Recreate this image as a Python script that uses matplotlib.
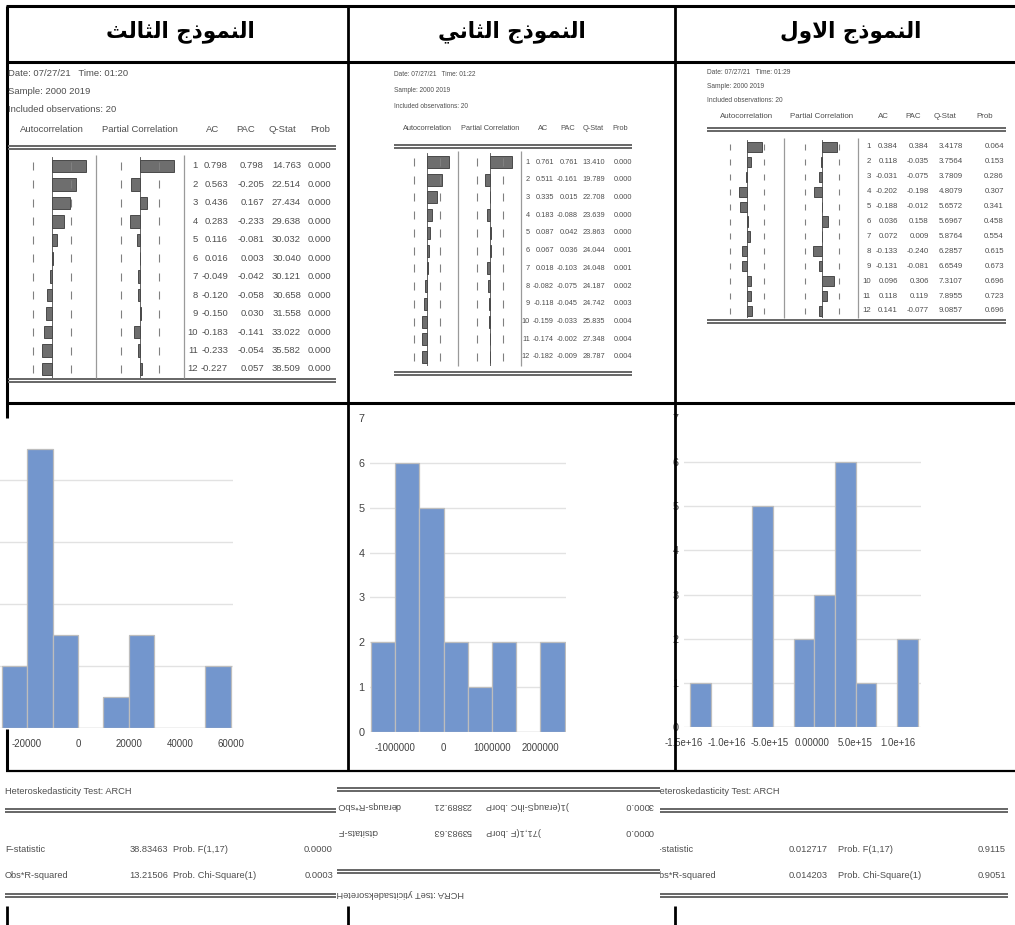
import matplotlib.pyplot as plt
from matplotlib.transforms import blended_transform_factory
import numpy as np

W, H = 1015, 925
DPI = 100

SANS = ['Liberation Sans', 'DejaVu Sans']
GREY = '#4f4f4f'

# column headers, left to right
HEADERS = ['النموذج الثالث', 'النموذج الثاني', 'النموذج الاول']

# correlograms (lags 1..12)
LAGS = list(range(1, 13))
TIME_M3 = '01:20'
AC_M3 = [0.798, 0.563, 0.436, 0.283, 0.116, 0.016, -0.049, -0.120, -0.150, -0.183, -0.233, -0.227]
PAC_M3 = [0.798, -0.205, 0.167, -0.233, -0.081, 0.003, -0.042, -0.058, 0.030, -0.141, -0.054, 0.057]
Q_M3 = [14.763, 22.514, 27.434, 29.638, 30.032, 30.040, 30.121, 30.658, 31.558, 33.022, 35.582, 38.509]
PROB_M3 = [0.000, 0.000, 0.000, 0.000, 0.000, 0.000, 0.000, 0.000, 0.000, 0.000, 0.000, 0.000]

TIME_M2 = '01:22'
AC_M2 = [0.761, 0.511, 0.335, 0.183, 0.087, 0.067, 0.018, -0.082, -0.118, -0.159, -0.174, -0.182]
PAC_M2 = [0.761, -0.161, 0.015, -0.088, 0.042, 0.036, -0.103, -0.075, -0.045, -0.033, -0.002, -0.009]
Q_M2 = [13.410, 19.789, 22.708, 23.639, 23.863, 24.044, 24.048, 24.187, 24.742, 25.835, 27.348, 28.787]
PROB_M2 = [0.000, 0.000, 0.000, 0.000, 0.000, 0.001, 0.001, 0.002, 0.003, 0.004, 0.004, 0.004]

TIME_M1 = '01:29'
AC_M1 = [0.384, 0.118, -0.031, -0.202, -0.188, 0.036, 0.072, -0.133, -0.131, 0.096, 0.118, 0.141]
PAC_M1 = [0.384, -0.035, -0.075, -0.198, -0.012, 0.158, 0.009, -0.240, -0.081, 0.306, 0.119, -0.077]
Q_M1 = [3.4178, 3.7564, 3.7809, 4.8079, 5.6572, 5.6967, 5.8764, 6.2857, 6.6549, 7.3107, 7.8955, 9.0857]
PROB_M1 = [0.064, 0.153, 0.286, 0.307, 0.341, 0.458, 0.554, 0.615, 0.673, 0.696, 0.723, 0.696]

N_OBS = 20

# residual histograms
HIST_M3_EDGES = [-30000, -20000, -10000, 0, 10000, 20000, 30000, 40000, 50000, 60000]
HIST_M3_COUNTS = [2, 9, 3, 0, 1, 3, 0, 0, 2]
HIST_M3_TICKS = [-20000, 0, 20000, 40000, 60000]
HIST_M3_LABELS = ['-20000', '0', '20000', '40000', '60000']

HIST_M2_EDGES = [-1500000, -1000000, -500000, 0, 500000, 1000000, 1500000, 2000000, 2500000]
HIST_M2_COUNTS = [2, 6, 5, 2, 1, 2, 0, 2]
HIST_M2_TICKS = [-1000000, 0, 1000000, 2000000]
HIST_M2_LABELS = ['-1000000', '0', '1000000', '2000000']

HIST_M1_EDGES = [-1.430e16, -1.188e16, -9.46e15, -7.04e15, -4.62e15, -2.20e15,
                 0.22e15, 2.64e15, 5.06e15, 7.48e15, 9.90e15, 1.232e16]
HIST_M1_COUNTS = [1, 0, 0, 5, 0, 2, 3, 6, 1, 0, 2]
HIST_M1_TICKS = [-1.5e16, -1.0e16, -5.0e15, 0, 5.0e15, 1.0e16]
HIST_M1_LABELS = ['-1.5e+16', '-1.0e+16', '-5.0e+15', '0.00000', '5.0e+15', '1.0e+16']

# ARCH tests: F, p of F, Obs*R2, p of chi2
ARCH_M3 = ['38.83463', '0.0000', '13.21506', '0.0003']
ARCH_M2 = ['36.38935', '0.0000', '12.98832', '0.0003']
ARCH_M1 = ['0.012717', '0.9115', '0.014203', '0.9051']

# Arabic contextual forms: isolated, final, initial, medial
AR_FORMS = {
    'ا': ('\uFE8D', '\uFE8E', None, None),
    'ل': ('\uFEDD', '\uFEDE', '\uFEDF', '\uFEE0'),
    'ن': ('\uFEE5', '\uFEE6', '\uFEE7', '\uFEE8'),
    'م': ('\uFEE1', '\uFEE2', '\uFEE3', '\uFEE4'),
    'و': ('\uFEED', '\uFEEE', None, None),
    'ذ': ('\uFEAB', '\uFEAC', None, None),
    'ج': ('\uFE9D', '\uFE9E', '\uFE9F', '\uFEA0'),
    'ث': ('\uFE99', '\uFE9A', '\uFE9B', '\uFE9C'),
    'ي': ('\uFEF1', '\uFEF2', '\uFEF3', '\uFEF4'),
}
LAM_ALEF = ('\uFEFB', '\uFEFC')


def shape_arabic(word: str) -> str:
    # matplotlib has no shaping / bidi, so pick the joined forms by hand
    units = []
    i = 0
    while i < len(word):
        if word[i] == 'ل' and i + 1 < len(word) and word[i + 1] == 'ا':
            units.append('LA')
            i += 2
        else:
            units.append(word[i])
            i += 1

    def joins_left(u):
        return u in AR_FORMS and AR_FORMS[u][2] is not None

    def joins_right(u):
        return u == 'LA' or u in AR_FORMS

    out = []
    for k, u in enumerate(units):
        prev = units[k - 1] if k > 0 else None
        nxt = units[k + 1] if k + 1 < len(units) else None
        from_prev = prev is not None and joins_left(prev) and joins_right(u)
        to_next = nxt is not None and joins_left(u) and joins_right(nxt)
        if u == 'LA':
            out.append(LAM_ALEF[1] if from_prev else LAM_ALEF[0])
        elif u not in AR_FORMS:
            out.append(u)
        else:
            iso, fin, ini, med = AR_FORMS[u]
            if from_prev and to_next:
                out.append(med)
            elif from_prev:
                out.append(fin)
            elif to_next:
                out.append(ini)
            else:
                out.append(iso)
    return ''.join(reversed(out))


fig = plt.figure(figsize=(W / DPI, H / DPI), dpi=DPI)


def px_axes(x0, y0, x1, y1, **kw):
    return fig.add_axes([x0 / W, 1 - y1 / H, (x1 - x0) / W, (y1 - y0) / H], **kw)


def pixel_space(ax, x0, y0, x1, y1):
    ax.set_xlim(x0, x1)
    ax.set_ylim(y1, y0)
    ax.axis('off')
    ax.patch.set_alpha(0)


# overlay in pixel coordinates
ax0 = px_axes(0, 0, W, H, zorder=5)
pixel_space(ax0, 0, 0, W, H)

# ---- table grid ----
for y, lw in ((6, 2.2), (62, 2.2), (403, 2.2), (771, 1.6)):
    ax0.hlines(y, 6, W, color='black', lw=lw)
ax0.vlines(7, 6, 418, color='black', lw=2.2)
ax0.vlines(7, 729, 771, color='black', lw=2.2)
ax0.vlines([348, 675], 6, 771, color='black', lw=2.0)
ax0.vlines([7, 348, 675], 906, 925, color='black', lw=2.0)

for cx, label in zip((180, 512, 851), HEADERS):
    ax0.text(cx, 32, shape_arabic(label), ha='center', va='center',
             fontsize=15.5, fontweight='bold', family='DejaVu Sans')

# ---- correlograms ----
PANELS = [
    dict(x0=8, x1=336, fs_top=6.8, fs=6.8, y_text=(74, 92, 110), y_head=129, y_dbl=146,
         row1=166, row12=369, y_bot=379, ac_zero=52, pac_zero=140, scale=42,
         sep=(96, 184), head_x=(213, 246, 282, 320), num_r=(198, 228, 264, 301, 331)),
    dict(x0=394, x1=632, fs_top=4.7, fs=5.3, y_text=(74, 90, 107), y_head=128, y_dbl=145,
         row1=162, row12=357, y_bot=372, ac_zero=427, pac_zero=490, scale=29,
         sep=(458, 521), head_x=(543, 568, 593, 620), num_r=(530, 554, 578, 605, 632)),
    dict(x0=707, x1=1006, fs_top=4.8, fs=5.7, y_text=(72, 86, 101), y_head=117, y_dbl=128,
         row1=147, row12=311, y_bot=320, ac_zero=747, pac_zero=822, scale=38,
         sep=(784, 858), head_x=(883, 913, 945, 985), num_r=(871, 898, 929, 963, 1004)),
]


def draw_correlogram(p, time, ac, pac, q, prob, q_fmt):
    fs = p['fs']
    for y, line in zip(p['y_text'], (f'Date: 07/27/21   Time: {time}', 'Sample: 2000 2019',
                                     f'Included observations: {N_OBS}')):
        ax0.text(p['x0'], y, line, fontsize=p['fs_top'], family=SANS, color=GREY, va='center')
    ax0.text(p['ac_zero'], p['y_head'], 'Autocorrelation', fontsize=fs, family=SANS,
             color=GREY, va='center', ha='center')
    ax0.text(p['pac_zero'], p['y_head'], 'Partial Correlation', fontsize=fs, family=SANS,
             color=GREY, va='center', ha='center')
    for hx, lab in zip(p['head_x'], ('AC', 'PAC', 'Q-Stat', 'Prob')):
        ax0.text(hx, p['y_head'], lab, fontsize=fs, family=SANS, color=GREY,
                 va='center', ha='center')
    for yy in (p['y_dbl'], p['y_bot']):
        ax0.hlines([yy, yy + 3], p['x0'], p['x1'], color='#666666', lw=1.4)

    dy = (p['row12'] - p['row1']) / 11
    top, bot = p['row1'] - dy / 2, p['row12'] + dy / 2
    ax0.vlines(p['sep'], top - 2, bot, color='#9a9a9a', lw=0.9)

    bound = 2 / np.sqrt(N_OBS)
    cols = ((p['x0'] + 4, p['sep'][0] - 1, p['ac_zero'], ac),
            (p['sep'][0] + 2, p['sep'][1] - 2, p['pac_zero'], pac))
    for left, right, zero, vals in cols:
        ax = px_axes(left, top, right, bot, zorder=4)
        ax.set_xlim((left - zero) / p['scale'], (right - zero) / p['scale'])
        ax.set_ylim(12.5, 0.5)
        ax.axis('off')
        ax.patch.set_alpha(0)
        ax.barh(LAGS, vals, height=0.68, color='#6e6e6e', edgecolor='#383838', lw=0.6)
        ax.axvline(0, color='#4a4a4a', lw=0.6)
        ax.plot([-bound] * len(LAGS), LAGS, ls='none', marker='|', ms=dy * 0.3,
                color='#808080', mew=0.8)
        ax.plot([bound] * len(LAGS), LAGS, ls='none', marker='|', ms=dy * 0.3,
                color='#808080', mew=0.8)

    tr = blended_transform_factory(ax0.transData, ax.transData)
    for lag, a, pa, qq, pr in zip(LAGS, ac, pac, q, prob):
        cells = (str(lag), f'{a:.3f}', f'{pa:.3f}', q_fmt.format(qq), f'{pr:.3f}')
        for xr, s in zip(p['num_r'], cells):
            ax0.text(xr, lag, s, transform=tr, fontsize=fs, family=SANS, color=GREY,
                     ha='right', va='center', clip_on=False)


draw_correlogram(PANELS[0], TIME_M3, AC_M3, PAC_M3, Q_M3, PROB_M3, '{:.3f}')
draw_correlogram(PANELS[1], TIME_M2, AC_M2, PAC_M2, Q_M2, PROB_M2, '{:.3f}')
draw_correlogram(PANELS[2], TIME_M1, AC_M1, PAC_M1, Q_M1, PROB_M1, '{:.4f}')

# ---- histograms ----
HISTS = [
    ((0, 418, 233, 728), (-30600, 60800), 10, 2, HIST_M3_EDGES, HIST_M3_COUNTS,
     HIST_M3_TICKS, HIST_M3_LABELS, False),
    ((370, 418, 566, 732), (-1520000, 2530000), 7, 1, HIST_M2_EDGES, HIST_M2_COUNTS,
     HIST_M2_TICKS, HIST_M2_LABELS, True),
    ((684, 418, 921, 727), (-14.05e15, 12.70e15), 7, 1, HIST_M1_EDGES, HIST_M1_COUNTS,
     HIST_M1_TICKS, HIST_M1_LABELS, True),
]
for box, xlim, ymax, ystep, edges, counts, ticks, labels, ylabels in HISTS:
    ax = px_axes(*box, zorder=2)
    edges = np.asarray(edges, dtype=float)
    ax.bar(edges[:-1], counts, width=np.diff(edges), align='edge',
           color='#7396CD', edgecolor='#BDBDBD', lw=0.9, zorder=3)
    ax.set_xlim(*xlim)
    ax.set_ylim(0, ymax)
    ax.set_xticks(ticks, labels=labels)
    ax.set_yticks(np.arange(0, ymax + 1, ystep))
    ax.yaxis.grid(True, color='#E2E2E2', lw=1.0)
    ax.set_axisbelow(True)
    ax.get_ygridlines()[-1].set_visible(False)
    for s in ax.spines.values():
        s.set_visible(False)
    ax.tick_params(length=0, labelcolor='#404040')
    ax.tick_params(axis='x', pad=8, labelsize=6.9)
    ax.tick_params(axis='y', pad=4, labelsize=7.8, labelleft=ylabels)
    for t in ax.get_xticklabels() + ax.get_yticklabels():
        t.set_family(SANS)

# ---- ARCH tests ----
ARCH_FS = 6.7


def arch_box(region, x0, x1, cols, vals, rows_y, lines_y, title_y, flip=False):
    ax = px_axes(*region, zorder=3)
    pixel_space(ax, *region)
    kw = dict(fontsize=ARCH_FS, family=SANS, color=GREY, clip_on=True, va='center')
    rows = [('F-statistic', vals[0], 'Prob. F(1,17)', vals[1]),
            ('Obs*R-squared', vals[2], 'Prob. Chi-Square(1)', vals[3])]
    for ly in lines_y:
        ax.hlines([ly, ly + 3], x0, x1, color='#5a5a5a', lw=1.3, clip_on=True)
    title = 'Heteroskedasticity Test: ARCH'
    if flip:
        # this block was pasted upside down in the source document
        kw['rotation'] = 180
        title = title[::-1]
        rows = [tuple(s[::-1] for s in r) for r in rows]
    ax.text(x0, title_y, title, **kw)
    for y, (name, v, pname, pv) in zip(rows_y, rows):
        ax.text(x0, y, name, **kw)
        ax.text(cols[0], y, v, ha='right', **kw)
        ax.text(cols[1], y, pname, **kw)
        ax.text(cols[2], y, pv, ha='right', **kw)


arch_box((0, 775, 340, 905), 5, 336, (168, 173, 333), ARCH_M3,
         (849, 876), (809, 894), 791)
arch_box((337, 775, 660, 910), 337, 660, (472, 486, 654), ARCH_M2,
         (832, 806), (788, 870), 894, flip=True)
arch_box((660, 775, 1015, 905), 653, 1008, (828, 838, 1006), ARCH_M1,
         (849, 876), (809, 894), 791)

fig.savefig('out.png', dpi=DPI)
